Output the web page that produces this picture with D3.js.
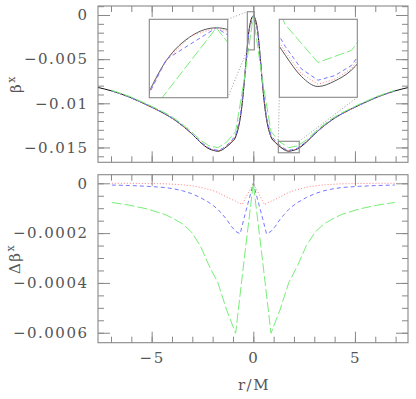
<!DOCTYPE html>
<html>
<head>
<meta charset="utf-8">
<script src="https://cdn.jsdelivr.net/npm/d3@7"></script>
<style>
body { margin: 0; background: #fff; }
svg text { font-family: "DejaVu Serif", serif; fill: #555; font-size: 15px; letter-spacing: 1.5px; }
.tick line { stroke: #888; }
</style>
</head>
<body>
<svg id="chart" width="416" height="399"></svg>
<script>
// r/M nodes of the reference (black) curve
var rExact = [-7.65,-6.96,-6.09,-5.22,-4.35,-3.92,-3.48,-3.05,-2.61,-2.18,-1.96,-1.74,-1.52,-1.31,-1.09,-0.87,-0.76,-0.65,-0.54,-0.44,-0.33,-0.22,-0.11,0,
              0.11,0.22,0.33,0.44,0.54,0.65,0.76,0.87,1.09,1.31,1.52,1.74,1.96,2.18,2.61,3.05,3.48,3.92,4.35,5.22,6.09,6.96,7.65]
var betaExact = [-0.0082,-0.0086,-0.0093,-0.0102,-0.0112,-0.0118,-0.01255,-0.0134,-0.0144,-0.01515,-0.01533,-0.01542,-0.01525,-0.0149,-0.01445,-0.0138,-0.0130,-0.0118,-0.0099,-0.0075,-0.0045,-0.0019,-0.00055,-0.0001,
                 -0.00055,-0.0019,-0.0045,-0.0075,-0.0099,-0.0118,-0.0130,-0.0138,-0.01445,-0.0149,-0.01525,-0.01542,-0.01533,-0.01515,-0.0144,-0.0134,-0.01255,-0.0118,-0.0112,-0.0102,-0.0093,-0.0086,-0.0082]

// fine grid (red dotted)
var rRed = [-6.96,-6.09,-5.22,-4.35,-3.92,-3.48,-3.05,-2.61,-2.18,-1.96,-1.74,-1.52,-1.31,-1.09,-0.87,-0.76,-0.65,-0.54,-0.44,-0.33,-0.22,-0.11,0,
            0.11,0.22,0.33,0.44,0.54,0.65,0.76,0.87,1.09,1.31,1.52,1.74,1.96,2.18,2.61,3.05,3.48,3.92,4.35,5.22,6.09,6.96]
var dRed = [0,0,-0.000001,-0.000002,-0.000004,-0.000006,-0.00001,-0.000016,-0.000025,-0.00003,-0.000037,-0.000046,-0.000055,-0.000064,-0.000072,-0.000077,-0.000081,-0.000085,-0.000068,-0.000051,-0.000034,-0.000017,0,
            -0.000017,-0.000034,-0.000051,-0.000068,-0.000085,-0.000081,-0.000077,-0.000072,-0.000064,-0.000055,-0.000046,-0.000037,-0.00003,-0.000025,-0.000016,-0.00001,-0.000006,-0.000004,-0.000002,-0.000001,0,0]

// medium grid (blue dashed)
var rBlue = [-6.96,-6.09,-5.22,-4.35,-3.92,-3.48,-3.05,-2.61,-2.18,-1.96,-1.74,-1.52,-1.31,-1.09,-0.87,-0.65,-0.44,-0.22,0,
             0.22,0.44,0.65,0.87,1.09,1.31,1.52,1.74,1.96,2.18,2.61,3.05,3.48,3.92,4.35,5.22,6.09,6.96]
var dBlue = [-0.000007,-0.000009,-0.000012,-0.000017,-0.000022,-0.00003,-0.000041,-0.000057,-0.000077,-0.00009,-0.000105,-0.000125,-0.000145,-0.000172,-0.000193,-0.000203,-0.000135,-0.000068,0,
             -0.000068,-0.000135,-0.000203,-0.000193,-0.000172,-0.000145,-0.000125,-0.000105,-0.00009,-0.000077,-0.000057,-0.000041,-0.00003,-0.000022,-0.000017,-0.000012,-0.000009,-0.000007]

// coarse grid (green long dash)
var rGreen = [-6.96,-6.09,-5.22,-4.35,-3.92,-3.48,-3.05,-2.61,-2.18,-1.74,-1.31,-0.87,-0.44,0,
              0.44,0.87,1.31,1.74,2.18,2.61,3.05,3.48,3.92,4.35,5.22,6.09,6.96]
var dGreen = [-0.000077,-0.000088,-0.000103,-0.000125,-0.000142,-0.000163,-0.000195,-0.00025,-0.00033,-0.0004,-0.000509,-0.000602,-0.0003,0,
              -0.0003,-0.000602,-0.000509,-0.0004,-0.00033,-0.00025,-0.000195,-0.000163,-0.000142,-0.000125,-0.000103,-0.000088,-0.000077]

var xTicks = [-5, 0, 5]
var xTickLabels = ["\u22125", "0", "5"]
var topTicks = [0, -0.005, -0.01, -0.015]
var topTickLabels = ["0", "\u22120.005", "\u22120.01", "\u22120.015"]
var botTicks = [0, -0.0002, -0.0004, -0.0006]
var botTickLabels = ["0", "\u22120.0002", "\u22120.0004", "\u22120.0006"]

var colors = {exact: "#111", red: "#ff7f7f", blue: "#7777ff", green: "#77ee77"}
var dashes = {exact: null, red: "1,2", blue: "4,3", green: "10,3"}

// beta of a run = reference beta at the same node minus its delta
function betaOf(rs, ds) {
    return rs.map((r, i) => ({r: r, v: betaExact[rExact.indexOf(r)] - ds[i]}))
}
var series = [
    {key: "exact", pts: rExact.map((r, i) => ({r: r, v: betaExact[i]})), d: null},
    {key: "red", pts: betaOf(rRed, dRed), d: rRed.map((r, i) => ({r: r, v: dRed[i]}))},
    {key: "blue", pts: betaOf(rBlue, dBlue), d: rBlue.map((r, i) => ({r: r, v: dBlue[i]}))},
    {key: "green", pts: betaOf(rGreen, dGreen), d: rGreen.map((r, i) => ({r: r, v: dGreen[i]}))}
]

var svg = d3.select("#chart")
var W = 310, left = 98
var topH = 156.3, topY = 6
var botH = 168, botY = 174.7

var x = d3.scaleLinear().domain([-7.64, 7.61]).range([0, W])
var yTop = d3.scaleLinear().domain([-0.01668, 0.00102]).range([topH, 0])
var yBot = d3.scaleLinear().domain([-0.00064, 0.0000345]).range([botH, 0])

var defs = svg.append("defs")
function clip(id, w, h) {
    defs.append("clipPath").attr("id", id).append("rect").attr("width", w).attr("height", h)
}
clip("clipTop", W, topH)
clip("clipBot", W, botH)

function axes(g, y, h, maj, labs, minor, showX) {
    var ax = function(a) { return a.tickSizeOuter(0) }
    g.append("g").call(ax(d3.axisLeft(y).tickValues(minor).tickSize(-6).tickFormat("")))
    g.append("g").call(ax(d3.axisLeft(y).tickValues(maj).tickSize(-12).tickPadding(9.5).tickFormat((d, i) => labs[i])))
    g.append("g").attr("transform", `translate(${W},0)`).call(ax(d3.axisRight(y).tickValues(minor).tickSize(-6).tickFormat("")))
    g.append("g").attr("transform", `translate(${W},0)`).call(ax(d3.axisRight(y).tickValues(maj).tickSize(-12).tickFormat("")))
    var xMinor = d3.range(-7, 8)
    g.append("g").call(ax(d3.axisTop(x).tickValues(xMinor).tickSize(-6).tickFormat("")))
    g.append("g").call(ax(d3.axisTop(x).tickValues(xTicks).tickSize(-11).tickFormat("")))
    g.append("g").attr("transform", `translate(0,${h})`).call(ax(d3.axisBottom(x).tickValues(xMinor).tickSize(-6).tickFormat("")))
    g.append("g").attr("transform", `translate(0,${h})`)
        .call(ax(d3.axisBottom(x).tickValues(xTicks).tickSize(-11).tickPadding(10).tickFormat((d, i) => showX ? xTickLabels[i] : "")))
    g.selectAll(".domain").remove()
    g.selectAll("g").attr("font-size", null).attr("font-family", null)
    g.append("rect").attr("width", W).attr("height", h)
        .attr("fill", "none").attr("stroke", "#888").attr("stroke-width", 1.1)
}

// ---- top panel
var gTop = svg.append("g").attr("transform", `translate(${left},${topY})`)
var lineTop = d3.line().x(d => x(d.r)).y(d => yTop(d.v))
var topCurves = gTop.append("g").attr("clip-path", "url(#clipTop)")
series.forEach(s => {
    var ln = s.key == "exact" ? d3.line().x(d => x(d.r)).y(d => yTop(d.v)).curve(d3.curveMonotoneX) : lineTop
    topCurves.append("path").datum(s.pts)
        .attr("d", ln).attr("fill", "none")
        .attr("stroke", colors[s.key]).attr("stroke-width", 1)
        .attr("stroke-dasharray", dashes[s.key])
})
axes(gTop, yTop, topH, topTicks, topTickLabels, d3.range(-16, 2).map(k => k * 0.001), false)

// ---- insets
function inset(id, bx, by, size, xd, yd, connect) {
    var ix = d3.scaleLinear().domain(xd).range([0, size])
    var iy = d3.scaleLinear().domain(yd).range([size, 0])
    clip(id, size, size)
    var g = svg.append("g").attr("transform", `translate(${bx},${by})`)
    g.append("rect").attr("width", size).attr("height", size).attr("fill", "#fff")
    var cg = g.append("g").attr("clip-path", `url(#${id})`)
    series.forEach(s => {
        var ln = d3.line().x(d => ix(d.r)).y(d => iy(d.v))
        if (s.key == "exact") ln.curve(d3.curveMonotoneX)
        cg.append("path").datum(s.pts).attr("d", ln).attr("fill", "none")
            .attr("stroke", s.key == "exact" ? "#555" : colors[s.key]).attr("stroke-width", 1)
            .attr("stroke-dasharray", dashes[s.key])
    })
    g.append("rect").attr("width", size).attr("height", size)
        .attr("fill", "none").attr("stroke", "#888").attr("stroke-width", 1.1)

    // zoom box in the main panel
    var rx0 = left + x(xd[0]), rx1 = left + x(xd[1])
    var ry0 = topY + yTop(yd[1]), ry1 = topY + yTop(yd[0])
    svg.append("rect").attr("x", rx0).attr("y", ry0).attr("width", rx1 - rx0).attr("height", ry1 - ry0)
        .attr("fill", "none").attr("stroke", "#888").attr("stroke-width", 1.1)
    var corners = {bl: [bx, by + size], br: [bx + size, by + size], tr: [bx + size, by]}
    var rc = {tl: [rx0, ry0], tr: [rx1, ry0], bl: [rx0, ry1]}
    connect.forEach(c => {
        svg.append("line").attr("x1", corners[c[0]][0]).attr("y1", corners[c[0]][1])
            .attr("x2", rc[c[1]][0]).attr("y2", rc[c[1]][1])
            .attr("stroke", "#999").attr("stroke-width", 1).attr("stroke-dasharray", "1,2")
    })
}
inset("clipIn1", 149.3, 19.3, 78.4, [-0.295, 0.05], [-0.00395, 0.00037], [["tr", "tl"], ["br", "bl"]])
inset("clipIn2", 279.3, 19.3, 78, [1.23, 2.26], [-0.0156, -0.0143], [["bl", "tl"], ["br", "tr"]])

// ---- bottom panel
var gBot = svg.append("g").attr("transform", `translate(${left},${botY})`)
var lineBot = d3.line().x(d => x(d.r)).y(d => yBot(d.v))
var botCurves = gBot.append("g").attr("clip-path", "url(#clipBot)")
series.filter(s => s.d).forEach(s => {
    botCurves.append("path").datum(s.d)
        .attr("d", lineBot).attr("fill", "none")
        .attr("stroke", colors[s.key]).attr("stroke-width", 1)
        .attr("stroke-dasharray", dashes[s.key])
})
axes(gBot, yBot, botH, botTicks, botTickLabels, d3.range(-12, 1).map(k => k * 0.00005), true)

// ---- axis titles
var t1 = svg.append("text").attr("transform", "translate(21,84) rotate(-90)").attr("text-anchor", "middle")
t1.append("tspan").text("\u03b2")
t1.append("tspan").attr("dy", -6).attr("font-size", "11px").style("font-size", "11px").text("x")
var t2 = svg.append("text").attr("transform", "translate(20,259) rotate(-90)").attr("text-anchor", "middle")
t2.append("tspan").text("\u0394\u03b2")
t2.append("tspan").attr("dy", -6).style("font-size", "11px").text("x")
svg.append("text").attr("x", 254).attr("y", 390).attr("text-anchor", "middle").text("r/M")
</script>
</body>
</html>
